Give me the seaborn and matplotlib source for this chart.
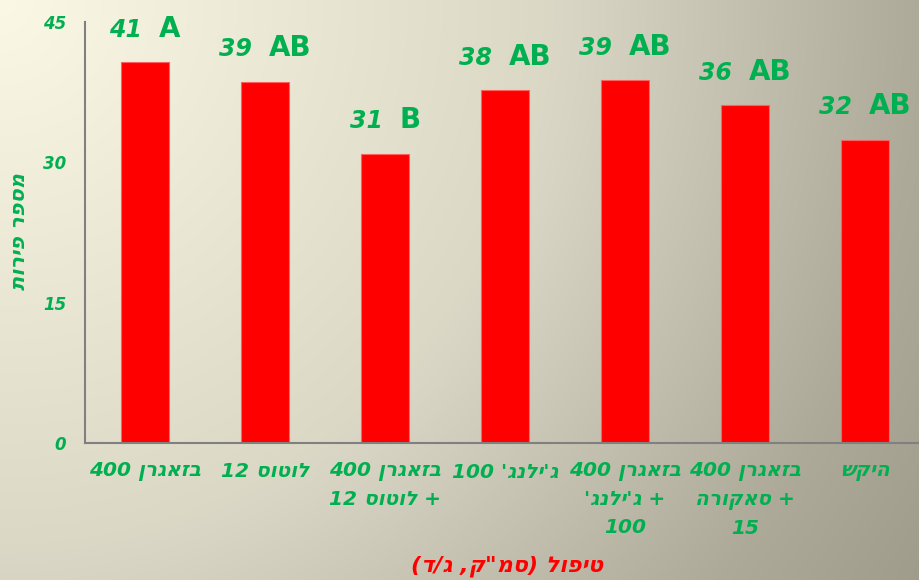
import re
import numpy as np
import pandas as pd
import matplotlib
matplotlib.use("Agg")
import matplotlib.pyplot as plt
import seaborn as sns
from matplotlib.offsetbox import TextArea, HPacker, AnnotationBbox

# data
treatments = ["בזאגרן 400", "לוטוס 12", "בזאגרן 400\n+ לוטוס 12", "ג'ילנג' 100",
              "בזאגרן 400\n+ ג'ילנג'\n100", "בזאגרן 400\n+ סאקורה\n15", "היקש"]
fruits = [40.7, 38.6, 30.9, 37.7, 38.8, 36.1, 32.4]
mean_labels = ["41", "39", "31", "38", "39", "36", "32"]
letters = ["A", "AB", "B", "AB", "AB", "AB", "AB"]
y_ticks = [0, 15, 30, 45]

GREEN = "#00b050"
RED = "#ff0000"


def heb(s):
    # matplotlib has no bidi support -> build the visual order by hand
    lines = []
    for line in s.split("\n"):
        v = line[::-1]
        v = re.sub(r"\d+", lambda m: m.group(0)[::-1], v)
        v = v.translate(str.maketrans("()", ")("))
        lines.append(v)
    return "\n".join(lines)


df = pd.DataFrame({"treatment": treatments, "fruits": fruits})

sns.set_style("white")
plt.rcParams["font.family"] = ["DejaVu Sans"]

fig = plt.figure(figsize=(9.2, 5.8), dpi=100)

# background gradient (light cream top-left -> grey bottom-right)
H, W = 580, 920
yy, xx = np.mgrid[0:H, 0:W]
d = np.sqrt(xx ** 2 + yy ** 2) / np.sqrt(W ** 2 + H ** 2)
stops = [0, 0.5, 0.535, 0.846, 1.0]
cols = np.array([[251, 248, 230], [220, 216, 198], [216, 212, 196],
                 [174, 170, 154], [160, 156, 140]]) / 255
grad = np.dstack([np.interp(d, stops, cols[:, c]) for c in range(3)])
bg = fig.add_axes([0, 0, 1, 1], zorder=-1)
bg.imshow(grad, aspect="auto")
bg.axis("off")

ax = fig.add_axes([85 / 920, 1 - 443 / 580, 840 / 920, 421 / 580])
ax.set_facecolor("none")
sns.barplot(data=df, x="treatment", y="fruits", color=RED, width=0.4,
            saturation=1, ax=ax)
for p in ax.patches:
    p.set_edgecolor("#ff6060")
    p.set_linewidth(0.8)

ax.set_xlim(-0.5, 6.5)
ax.set_ylim(0, 45)
ax.set_yticks(y_ticks)
ax.set_yticklabels([str(t) for t in y_ticks], color=GREEN, fontsize=12,
                   fontweight="bold", fontstyle="italic")
ax.tick_params(axis="y", direction="inout", length=9, width=1.2,
               color="#808080", pad=9)

ax.set_xticks(range(len(treatments)))
ax.set_xticklabels([heb(t) for t in treatments], color=GREEN, fontsize=14.5,
                   fontweight="bold", fontstyle="italic", linespacing=1.58,
                   va="top")
ax.set_xticks(np.arange(-0.5, 6.6, 1), minor=True)
ax.tick_params(axis="x", which="major", length=0, pad=14)
ax.tick_params(axis="x", which="minor", direction="out", length=5,
               width=1.2, color="#808080")

sns.despine(ax=ax, top=True, right=True)
for s in ["left", "bottom"]:
    ax.spines[s].set_color("#808080")
    ax.spines[s].set_linewidth(1.5)

ax.set_xlabel("")
ax.set_ylabel("")
fig.text(19 / 920, 1 - 232 / 580, heb("מספר פירות"), rotation=90,
         ha="center", va="center", color=GREEN, fontsize=15,
         fontweight="bold", fontstyle="italic")
fig.text(507 / 920, 1 - 566 / 580, heb('טיפול (סמ"ק, ג/ד)'),
         ha="center", va="center", color=RED, fontsize=16,
         fontweight="bold", fontstyle="italic")

# mean value + significance letters above each bar
for i, (v, m, l) in enumerate(zip(fruits, mean_labels, letters)):
    box = HPacker(children=[
        TextArea(m, textprops=dict(color=GREEN, fontsize=17,
                                   fontweight="bold", fontstyle="italic")),
        TextArea(l, textprops=dict(color=GREEN, fontsize=20,
                                   fontweight="bold")),
    ], sep=12, pad=0, align="baseline")
    ab = AnnotationBbox(box, (i, v), xybox=(0, 14), boxcoords="offset points",
                        frameon=False, box_alignment=(0.5, 0), pad=0,
                        annotation_clip=False)
    ax.add_artist(ab)

fig.savefig("out.png", dpi=100)
